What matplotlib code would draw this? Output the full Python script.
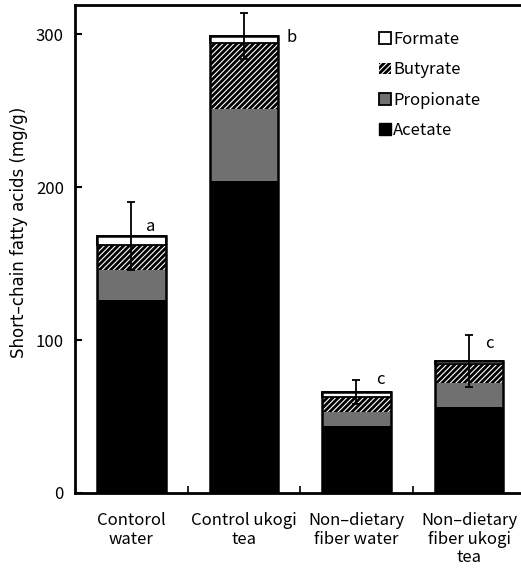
import numpy as np
import matplotlib.pyplot as plt
from matplotlib.patches import Patch

plt.rcParams['font.family'] = ['Noto Sans CJK JP', 'DejaVu Sans']
plt.rcParams['hatch.linewidth'] = 0.8

# Data (mg/g)
groups = ["Contorol\nwater", "Control ukogi\ntea", "Non\u2013dietary\nfiber water",
          "Non\u2013dietary\nfiber ukogi\ntea"]
acetate = [126, 204, 44, 56]
propionate = [20, 47, 9, 16]
butyrate = [16, 43, 10, 12]
formate = [6, 5, 3, 2.5]
errors = [22, 15, 8, 17]
letters = ["a", "b", "c", "c"]

x = np.arange(len(groups))
w = 0.61

fig = plt.figure(figsize=(5.21, 5.69), dpi=100)
ax = fig.add_axes([0.144, 0.1336, 0.86, 0.8576])

a = np.array(acetate, dtype=float)
p = np.array(propionate, dtype=float)
b = np.array(butyrate, dtype=float)
f = np.array(formate, dtype=float)
total = a + p + b + f

ax.bar(x, a, w, color='black', linewidth=0, zorder=2)
ax.bar(x, p, w, bottom=a, color='#707070', linewidth=0, zorder=2)
ax.bar(x, b, w, bottom=a + p, color='black', edgecolor='white', hatch='//////',
       linewidth=0, zorder=2)
ax.bar(x, f, w, bottom=a + p + b, color='white', edgecolor='black', linewidth=1.3, zorder=2)
# outline of whole bar
ax.bar(x, total, w, fill=False, edgecolor='black', linewidth=1.8, zorder=3)

ax.errorbar(x, total, yerr=errors, fmt='none', ecolor='black', elinewidth=1.3,
            capsize=3, capthick=1.3, zorder=4)

# significance letters, placed beside the error bar tops
letter_dx = [0.17, 0.42, 0.21, 0.18]
letter_dy = [-16, -16, 0, -6]
for i in range(len(x)):
    ax.text(x[i] + letter_dx[i], total[i] + errors[i] + letter_dy[i], letters[i],
            fontsize=12, ha='center', va='center')

handles = [
    Patch(facecolor='white', edgecolor='black', linewidth=1.3, label='Formate'),
    Patch(facecolor='black', edgecolor='white', hatch='//////', linewidth=0, label='Butyrate'),
    Patch(facecolor='#707070', edgecolor='black', linewidth=1.3, label='Propionate'),
    Patch(facecolor='black', edgecolor='black', label='Acetate'),
]
ax.legend(handles=handles, loc='upper left', bbox_to_anchor=(0.679, 0.947), frameon=False,
          fontsize=12, handlelength=0.7, handleheight=0.7, handletextpad=0.15,
          labelspacing=0.8, borderpad=0, borderaxespad=0)

ax.set_xlim(-0.5, 3.48)
ax.set_ylim(0, 319)
ax.set_yticks([0, 100, 200, 300])
ax.tick_params(axis='y', direction='in', length=5, width=1.5, labelsize=12, pad=8)
ax.set_xticks(x)
ax.set_xticklabels(groups, fontsize=12, linespacing=1.1)
ax.tick_params(axis='x', which='major', length=0, pad=14)
ax.set_xticks([0.5, 1.5, 2.5], minor=True)
ax.tick_params(axis='x', which='minor', direction='in', length=5, width=1.2)
ax.set_ylabel("Short\u2013chain fatty acids (mg/g)", fontsize=12, family='DejaVu Sans')
ax.yaxis.set_label_coords(-0.104, 0.535)
for s in ax.spines.values():
    s.set_linewidth(2)

fig.savefig("out.png", dpi=100)
